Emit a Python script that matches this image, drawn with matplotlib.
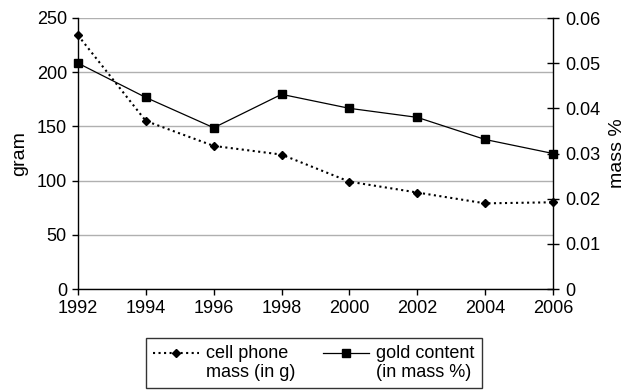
import matplotlib
matplotlib.use("Agg")
import matplotlib.pyplot as plt
import numpy as np
from matplotlib.legend_handler import HandlerLine2D

plt.rcParams['font.family'] = ['Liberation Sans', 'DejaVu Sans']

# data
years = [1992, 1994, 1996, 1998, 2000, 2002, 2004, 2006]
phone_mass = [234, 155, 132, 124, 99, 89, 79, 80]          # gram
gold_content = [0.050, 0.0424, 0.0357, 0.0431, 0.0400, 0.0380, 0.0331, 0.030]  # mass %


# legend handle sits level with the first line of the two-line label
class TopLineHandler(HandlerLine2D):
    def create_artists(self, legend, orig_handle, xdescent, ydescent,
                       width, height, fontsize, trans):
        arts = super().create_artists(legend, orig_handle, xdescent, ydescent,
                                      width, height, fontsize, trans)
        for a in arts:
            a.set_ydata(np.asarray(a.get_ydata(), dtype=float) + 0.6 * fontsize)
        return arts


fig = plt.figure(figsize=(6.33, 3.92), dpi=100)
ax = fig.add_axes([78/633, 1 - 289/392, (553 - 78)/633, (289 - 18)/392])
ax2 = ax.twinx()

# left axis: cell phone mass
l1, = ax.plot(years, phone_mass, color='black', linestyle=':', linewidth=1.5,
              marker='D', markersize=4.5, label='cell phone\nmass (in g)',
              clip_on=False)
ax.set_ylim(0, 250)
ax.set_yticks(range(0, 251, 50))
ax.set_xlim(1992, 2006)
ax.set_xticks(years)
ax.yaxis.grid(True, color='#b0b0b0', linewidth=1)
ax.set_axisbelow(True)
ax.set_ylabel('gram', fontsize=14, labelpad=6)

# right axis: gold content
l2, = ax2.plot(years, gold_content, color='black', linestyle='-', linewidth=0.9,
               marker='s', markersize=6, label='gold content\n(in mass %)',
               clip_on=False)
ax2.set_ylim(0, 0.06)
ax2.set_yticks([0, 0.01, 0.02, 0.03, 0.04, 0.05, 0.06])
ax2.set_yticklabels(['0', '0.01', '0.02', '0.03', '0.04', '0.05', '0.06'])
ax2.set_ylabel('mass %', fontsize=14, labelpad=6)

for a in (ax, ax2):
    a.spines['top'].set_visible(False)
    for s in ('left', 'right', 'bottom'):
        a.spines[s].set_color('black')
        a.spines[s].set_linewidth(1)
    a.tick_params(labelsize=13, length=4, width=1, colors='black')
ax.spines['right'].set_visible(False)
ax2.spines['left'].set_visible(False)
ax2.spines['bottom'].set_visible(False)
ax2.tick_params(axis='y', direction='inout', length=8, pad=5)
ax.tick_params(axis='x', pad=4)
ax.tick_params(axis='y', pad=4)

leg = fig.legend([l1, l2], [l1.get_label(), l2.get_label()], ncol=2,
                 loc='upper left', bbox_to_anchor=(146/633, 1 - 338/392),
                 fontsize=13, frameon=True, fancybox=False, edgecolor='black',
                 handlelength=2.55, columnspacing=1.5, handletextpad=0.4,
                 borderpad=0.4, borderaxespad=0,
                 handler_map={l1: TopLineHandler(), l2: TopLineHandler()})
leg.get_frame().set_linewidth(1)
for t in leg.get_texts():
    t.set_linespacing(1.15)

fig.savefig('out.png', dpi=100)
